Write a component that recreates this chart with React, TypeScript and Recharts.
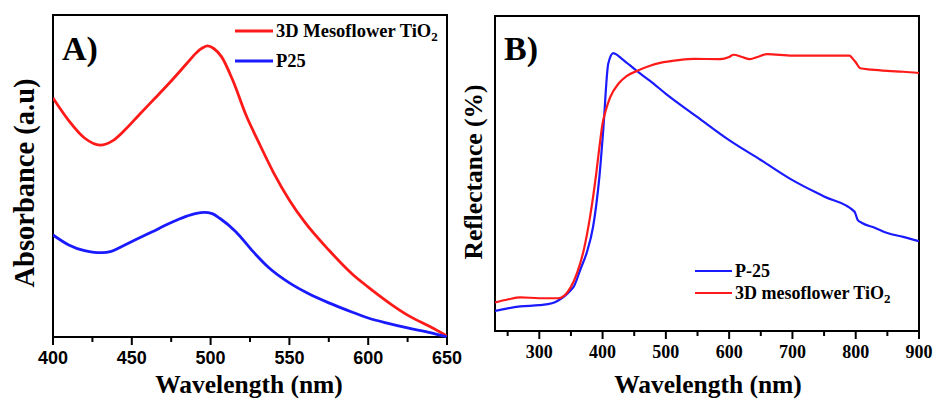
import React from 'react';
import { LineChart, Line, XAxis, YAxis, ReferenceArea } from 'recharts';

// Panel A: absorbance
const absWlMeso = [400, 410, 420, 430, 438, 446, 455, 465, 475, 485, 491, 495, 498, 502, 507, 514, 523, 530, 540, 550, 560, 575, 590, 600, 615, 625, 640, 650];
const absMeso = [74.2, 67.2, 61.8, 59.6, 61, 64.5, 69.2, 74.3, 79.5, 85, 88.3, 89.8, 90.4, 89.6, 87, 79.8, 68.3, 61, 51, 42.5, 35.5, 27, 19.5, 15.5, 10, 6.8, 3, 0.3];
const absWlP25 = [400, 410, 420, 426, 431, 437, 444, 452, 463, 474, 484, 491, 496, 501, 506, 516, 527, 537, 550, 562, 575, 590, 600, 612, 625, 640, 650];
const absP25 = [31.7, 28.6, 26.8, 26.3, 26.2, 26.6, 28.2, 30.1, 32.7, 35.3, 37.4, 38.4, 38.7, 38.3, 36.8, 32.7, 26.5, 21.5, 16.8, 13.5, 10.6, 7.7, 5.9, 4.3, 2.8, 1.3, 0];
const absTicks = [400, 425, 450, 475, 500, 525, 550, 575, 600, 625, 650];

// Panel B: reflectance
const refWlP25 = [230, 250, 270, 300, 320, 330, 340, 350, 355, 365, 375, 385, 390, 395, 401, 409, 417, 420, 430, 457, 475, 500, 550, 600, 650, 700, 750, 798, 800, 803, 810, 830, 850, 875, 900];
const refP25 = [6.4, 7.2, 7.8, 8.2, 8.8, 9.7, 11.1, 13, 14.3, 19.6, 24.9, 33.1, 40, 49, 63.7, 84.9, 88.2, 88, 86.5, 82.1, 79.4, 75.3, 67.9, 60.6, 54.3, 47.9, 42.7, 37.9, 37, 35.3, 34.3, 32.8, 31.1, 29.9, 28.5];
const refWlMeso = [230, 250, 270, 300, 330, 340, 350, 360, 370, 380, 390, 395, 400, 405, 412, 425, 438, 457, 475, 491, 520, 544, 586, 600, 607, 620, 633, 645, 660, 700, 750, 790, 795, 800, 807, 825, 850, 875, 900];
const refMeso = [9.1, 10, 10.7, 10.4, 10.4, 11.3, 14, 18.6, 25.5, 36, 50, 58.4, 65.9, 70, 74.2, 78.5, 80.9, 82.8, 84.2, 85.1, 86, 86.4, 86.3, 87, 87.7, 87, 86.3, 87, 87.9, 87.4, 87.4, 87.4, 86.5, 85.3, 83.4, 83, 82.6, 82.3, 81.9];
const refTicks = [250, 300, 350, 400, 450, 500, 550, 600, 650, 700, 750, 800, 850, 900];

const RED = '#ff1a1a';
const BLUE = '#1a1aff';
const SERIF = '"Liberation Serif", "Times New Roman", serif';
const SANS = '"Liberation Sans", Arial, sans-serif';

const toPoints = (xs: number[], ys: number[]) => xs.map((x, i) => ({ x, y: ys[i] }));

const makeTick = (step: number, font: string, size: number, dy: number) => (props: any) => {
  const { x, y, payload } = props;
  const major = payload.value % step === 0;
  return (
    <g>
      <line x1={x} x2={x} y1={y} y2={y + (major ? 8 : 5)} stroke="#000" strokeWidth={2} />
      {major && (
        <text x={x} y={y + dy} textAnchor="middle" fontFamily={font} fontWeight="bold" fontSize={size} fill="#000">
          {payload.value}
        </text>
      )}
    </g>
  );
};

const TickA = makeTick(50, SANS, 18, 27);
const TickB = makeTick(100, SERIF, 18, 27);

const App = () => {
  return (
    <div style={{ position: 'fixed', left: 0, top: 0, width: 933, height: 401, background: '#fff' }}>
      <div style={{ position: 'absolute', left: 0, top: 0 }}>
        <LineChart width={476} height={401} margin={{ top: 15, right: 29, left: 53, bottom: 24 }}>
          <XAxis
            dataKey="x"
            type="number"
            domain={[400, 650]}
            ticks={absTicks}
            interval={0}
            axisLine={false}
            tickLine={false}
            tickSize={0}
            tickMargin={0}
            height={40}
            tick={TickA}
            allowDataOverflow
          />
          <YAxis type="number" domain={[0, 100]} hide />
          <Line data={toPoints(absWlMeso, absMeso)} dataKey="y" type="monotone" stroke={RED} strokeWidth={2.8} dot={false} isAnimationActive={false} />
          <Line data={toPoints(absWlP25, absP25)} dataKey="y" type="monotone" stroke={BLUE} strokeWidth={2.8} dot={false} isAnimationActive={false} />
          <ReferenceArea x1={400} x2={650} y1={0} y2={100} fill="none" stroke="#000" strokeWidth={2} />
        </LineChart>
      </div>
      <div style={{ position: 'absolute', left: 460, top: 0 }}>
        <LineChart width={473} height={401} margin={{ top: 16, right: 14, left: 35, bottom: 30 }}>
          <XAxis
            dataKey="x"
            type="number"
            domain={[230, 900]}
            ticks={refTicks}
            interval={0}
            axisLine={false}
            tickLine={false}
            tickSize={0}
            tickMargin={0}
            height={40}
            tick={TickB}
            allowDataOverflow
          />
          <YAxis type="number" domain={[0, 100]} hide />
          <Line data={toPoints(refWlP25, refP25)} dataKey="y" type="monotone" stroke={BLUE} strokeWidth={2.2} dot={false} isAnimationActive={false} />
          <Line data={toPoints(refWlMeso, refMeso)} dataKey="y" type="monotone" stroke={RED} strokeWidth={2.2} dot={false} isAnimationActive={false} />
          <ReferenceArea x1={230} x2={900} y1={0} y2={100} fill="none" stroke="#000" strokeWidth={2} />
        </LineChart>
      </div>
      <svg width={933} height={401} style={{ position: 'absolute', left: 0, top: 0, pointerEvents: 'none' }}>
        <g fontFamily={SERIF} fontWeight="bold" fill="#000">
          <text x={62} y={60} fontSize={34}>A)</text>
          <text x={504} y={60} fontSize={34}>B)</text>
          <text x={249} y={393} fontSize={25.5} textAnchor="middle">Wavelength (nm)</text>
          <text x={708} y={393} fontSize={25.5} textAnchor="middle">Wavelength (nm)</text>
          <text transform="translate(34,183) rotate(-90)" fontSize={28.5} textAnchor="middle">Absorbance (a.u)</text>
          <text transform="translate(482,172) rotate(-90)" fontSize={25.5} textAnchor="middle">Reflectance (%)</text>

          <line x1={235} x2={273} y1={31} y2={31} stroke={RED} strokeWidth={2.8} />
          <text x={276} y={37} fontSize={18.5}>3D Mesoflower TiO<tspan dy={4} fontSize={13}>2</tspan></text>
          <line x1={235} x2={273} y1={61} y2={61} stroke={BLUE} strokeWidth={2.8} />
          <text x={276} y={67} fontSize={18.5}>P25</text>

          <line x1={695} x2={732} y1={271} y2={271} stroke={BLUE} strokeWidth={2.2} />
          <text x={735} y={277} fontSize={18}>P-25</text>
          <line x1={695} x2={732} y1={293} y2={293} stroke={RED} strokeWidth={2.2} />
          <text x={735} y={299} fontSize={18}>3D mesoflower TiO<tspan dy={4} fontSize={13}>2</tspan></text>
        </g>
      </svg>
    </div>
  );
};

export default App;
